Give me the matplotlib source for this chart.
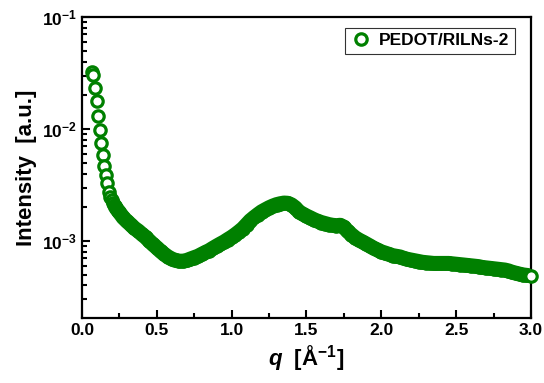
import numpy as np
import matplotlib.pyplot as plt
from matplotlib.ticker import LogLocator, MultipleLocator, NullFormatter

# SAXS profile (q in 1/A, intensity in a.u.)
q_low = [0.068, 0.076, 0.088, 0.099, 0.110, 0.120, 0.130, 0.140, 0.150,
         0.160, 0.170, 0.180, 0.190, 0.200, 0.210, 0.220, 0.230, 0.240]
i_low = [3.25e-2, 3.03e-2, 2.31e-2, 1.78e-2, 1.31e-2, 9.8e-3, 7.5e-3, 5.86e-3, 4.68e-3,
         3.88e-3, 3.30e-3, 2.74e-3, 2.45e-3, 2.30e-3, 2.18e-3, 2.05e-3, 1.95e-3, 1.87e-3]

q_main = [0.250, 0.275, 0.300, 0.325, 0.350, 0.375, 0.400, 0.425, 0.450, 0.475,
          0.500, 0.525, 0.550, 0.575, 0.600, 0.625, 0.650, 0.675, 0.700, 0.725,
          0.750, 0.775, 0.800, 0.825, 0.850, 0.875, 0.900, 0.925, 0.950, 0.975,
          1.000, 1.025, 1.050, 1.075, 1.100, 1.125, 1.150, 1.175, 1.200, 1.225,
          1.250, 1.275, 1.300, 1.325, 1.350, 1.375, 1.400, 1.425, 1.450, 1.475,
          1.500, 1.525, 1.550, 1.575, 1.600, 1.625, 1.650, 1.675, 1.700, 1.725,
          1.750, 1.775, 1.800, 1.825, 1.850, 1.875, 1.900, 1.925, 1.950, 1.975,
          2.000, 2.025, 2.050, 2.075, 2.100, 2.125, 2.150, 2.175, 2.200, 2.225,
          2.250, 2.275, 2.300, 2.325, 2.350, 2.375, 2.400, 2.425, 2.450, 2.475,
          2.500, 2.525, 2.550, 2.575, 2.600, 2.625, 2.650, 2.675, 2.700, 2.725,
          2.750, 2.775, 2.800, 2.825, 2.850, 2.875, 2.900, 2.925, 2.950, 2.975,
          3.000]
i_main = [1.80e-3, 1.62e-3, 1.50e-3, 1.40e-3, 1.30e-3, 1.23e-3, 1.15e-3, 1.08e-3, 1.00e-3, 9.3e-4,
          8.7e-4, 8.1e-4, 7.6e-4, 7.2e-4, 6.9e-4, 6.7e-4, 6.6e-4, 6.6e-4, 6.7e-4, 6.9e-4,
          7.1e-4, 7.3e-4, 7.6e-4, 7.9e-4, 8.2e-4, 8.6e-4, 9.0e-4, 9.4e-4, 9.8e-4, 1.03e-3,
          1.08e-3, 1.14e-3, 1.21e-3, 1.29e-3, 1.40e-3, 1.52e-3, 1.62e-3, 1.72e-3, 1.82e-3, 1.90e-3,
          1.98e-3, 2.05e-3, 2.11e-3, 2.15e-3, 2.18e-3, 2.17e-3, 2.10e-3, 1.98e-3, 1.82e-3, 1.74e-3,
          1.67e-3, 1.61e-3, 1.55e-3, 1.50e-3, 1.46e-3, 1.43e-3, 1.40e-3, 1.38e-3, 1.37e-3, 1.38e-3,
          1.33e-3, 1.22e-3, 1.14e-3, 1.07e-3, 1.02e-3, 9.8e-4, 9.4e-4, 9.0e-4, 8.6e-4, 8.3e-4,
          8.0e-4, 7.8e-4, 7.6e-4, 7.4e-4, 7.3e-4, 7.2e-4, 7.0e-4, 6.85e-4, 6.75e-4, 6.65e-4,
          6.55e-4, 6.45e-4, 6.4e-4, 6.35e-4, 6.3e-4, 6.3e-4, 6.3e-4, 6.3e-4, 6.3e-4, 6.25e-4,
          6.2e-4, 6.15e-4, 6.1e-4, 6.05e-4, 6.0e-4, 5.95e-4, 5.9e-4, 5.8e-4, 5.75e-4, 5.7e-4,
          5.65e-4, 5.6e-4, 5.55e-4, 5.5e-4, 5.4e-4, 5.25e-4, 5.15e-4, 5.05e-4, 4.97e-4, 4.92e-4,
          4.87e-4]

label = "PEDOT/RILNs-2"
green = "#008000"

plt.rcParams["font.family"] = ["Liberation Sans", "DejaVu Sans"]
plt.rcParams["font.weight"] = "bold"
plt.rcParams["mathtext.fontset"] = "custom"
plt.rcParams["mathtext.rm"] = "Liberation Sans:bold"
plt.rcParams["mathtext.bf"] = "Liberation Sans:bold"
plt.rcParams["mathtext.it"] = "Liberation Sans:bold:italic"

fig = plt.figure(figsize=(5.44, 3.83), dpi=100)
ax = fig.add_axes([0.1507, 0.1697, 0.8253, 0.7859])

q = np.array(q_low + q_main)
inten = np.array(i_low + i_main)

# open circles; at higher q the measured points are so dense they merge
ax.plot(q[:-1], inten[:-1], "o", ls="none", ms=8.2, mew=2.3, mec=green,
        mfc="white", label=label, zorder=2)
ax.plot(q[15:-1], inten[15:-1], "-", color=green, lw=10.8,
        solid_capstyle="round", solid_joinstyle="round", zorder=3)
ax.plot(q[-1:], inten[-1:], "o", ls="none", ms=8.2, mew=2.3, mec=green,
        mfc="white", clip_on=False, zorder=5)

ax.set_yscale("log")
ax.set_xlim(0, 3.0)
ax.set_ylim(2.05e-4, 1e-1)

ax.xaxis.set_major_locator(MultipleLocator(0.5))
ax.xaxis.set_minor_locator(MultipleLocator(0.25))
ax.yaxis.set_major_locator(LogLocator(base=10, numticks=10))
ax.yaxis.set_minor_locator(LogLocator(base=10, subs=np.arange(2, 10), numticks=20))
ax.yaxis.set_minor_formatter(NullFormatter())

ax.tick_params(which="both", direction="in", top=False, right=False,
               labelsize=12.5, width=1.5)
ax.tick_params(which="major", length=6)
ax.tick_params(which="minor", length=3.5)
for s in ax.spines.values():
    s.set_linewidth(1.6)

ax.set_xlabel("$q$  [Å$^{-1}$]", fontsize=16, fontweight="bold", labelpad=4)
ax.set_ylabel("Intensity  [a.u.]", fontsize=16, fontweight="bold", labelpad=4)

leg = ax.legend(loc="upper right", bbox_to_anchor=(0.972, 0.975), fontsize=12.5,
                frameon=True, fancybox=False, handletextpad=0.45,
                borderpad=0.3, handlelength=1.2, borderaxespad=0.2)
leg.get_frame().set_edgecolor("black")
leg.get_frame().set_linewidth(0.8)

fig.savefig("out.png", dpi=100)
